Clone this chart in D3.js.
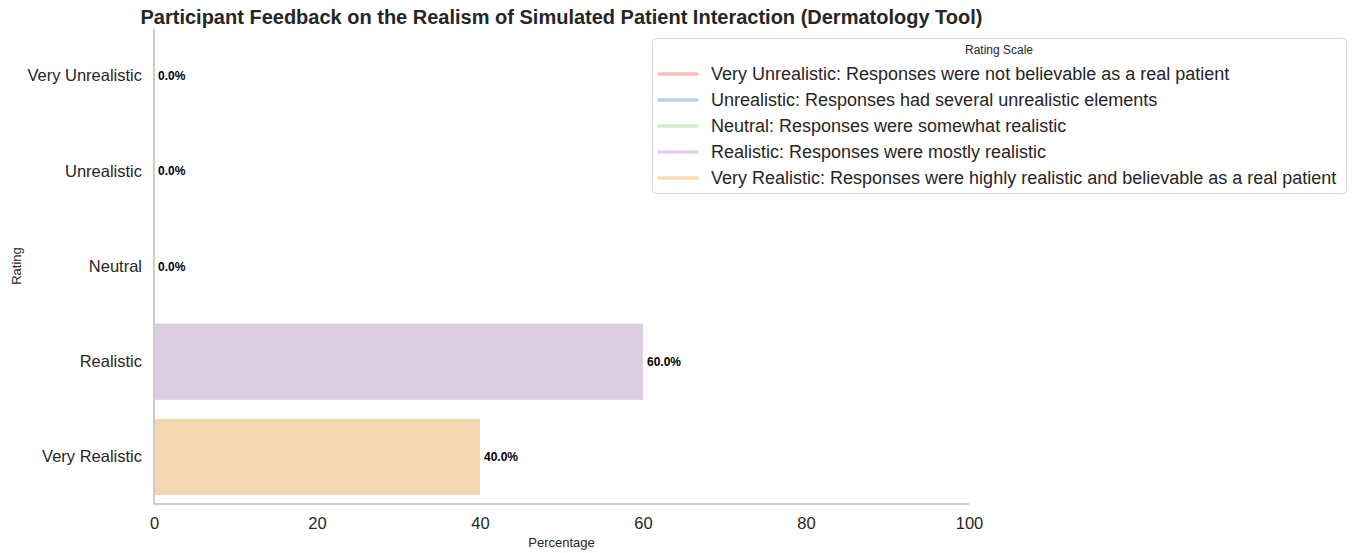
<!DOCTYPE html>
<html><head><meta charset="utf-8">
<script src="https://cdn.jsdelivr.net/npm/d3@7"></script>
<style>body{margin:0;background:#fff;} text{font-family:"Liberation Sans",Arial,sans-serif;}</style>
</head><body>
<svg id="c" width="1352" height="553"></svg>
<script>
const categories = ["Very Unrealistic","Unrealistic","Neutral","Realistic","Very Realistic"];
const values = [0,0,0,60,40];
const colors = ["#fbb4ae","#b3cde3","#ccebc5","#decbe4","#fed9a6"];
const legendLabels = [
 "Very Unrealistic: Responses were not believable as a real patient",
 "Unrealistic: Responses had several unrealistic elements",
 "Neutral: Responses were somewhat realistic",
 "Realistic: Responses were mostly realistic",
 "Very Realistic: Responses were highly realistic and believable as a real patient"
];
const xTicks = [0,20,40,60,80,100];

function desat(c, p){ const h = d3.hsl(c); h.s *= p; return h.formatHex(); }

const svg = d3.select("#c");
const L=154, R=969, T=28.6, B=504.5;
const x = d3.scaleLinear().domain([0,100]).range([L,R]);
const y = d3.scaleBand().domain(categories).range([T,B]).paddingInner(0.2).paddingOuter(0.1);

svg.append("text").attr("x",(L+R)/2).attr("y",24).attr("text-anchor","middle")
 .style("font-size","20px").style("font-weight","bold").attr("fill","#262626")
 .text("Participant Feedback on the Realism of Simulated Patient Interaction (Dermatology Tool)");

svg.selectAll("rect.bar").data(values).join("rect").attr("class","bar")
 .attr("x",x(0)).attr("y",(d,i)=>y(categories[i]))
 .attr("width",d=>x(d)-x(0)).attr("height",y.bandwidth())
 .attr("fill",(d,i)=>desat(colors[i],0.75));

svg.selectAll("text.val").data(values).join("text").attr("class","val")
 .attr("x",d=>x(d)+4).attr("y",(d,i)=>y(categories[i])+y.bandwidth()/2+4)
 .style("font-size","12px").style("font-weight","bold").attr("fill","#000")
 .text(d=>d.toFixed(1)+"%");

// y axis
const ya = svg.append("g").attr("transform",`translate(${L},0)`).call(d3.axisLeft(y).tickSize(0).tickPadding(12));
ya.select(".domain").attr("stroke","#cccccc").attr("stroke-width",2).attr("d",`M0,${T}V${B}`);
ya.selectAll("text").style("font-size","16.5px").attr("fill","#262626").style("font-family","Liberation Sans, Arial, sans-serif");

// x axis
const xa = svg.append("g").attr("transform",`translate(0,${B-1})`).call(d3.axisBottom(x).tickValues(xTicks).tickSize(0).tickPadding(14));
xa.select(".domain").attr("stroke","#cccccc").attr("stroke-width",2);
xa.selectAll("text").style("font-size","16.5px").attr("fill","#262626").style("font-family","Liberation Sans, Arial, sans-serif");

svg.append("text").attr("x",(L+R)/2).attr("y",547).attr("text-anchor","middle").style("font-size","13px").attr("fill","#262626").text("Percentage");
svg.append("text").attr("transform","translate(21,266) rotate(-90)").attr("text-anchor","middle").style("font-size","13px").attr("fill","#262626").text("Rating");

// legend
const lg = svg.append("g");
lg.append("rect").attr("x",652.5).attr("y",38.5).attr("width",694).attr("height",155).attr("rx",4)
 .attr("fill","#fff").attr("stroke","#d6d6d6");
lg.append("text").attr("x",999).attr("y",54).attr("text-anchor","middle").style("font-size","12px").attr("fill","#262626").text("Rating Scale");
legendLabels.forEach((t,i)=>{
  const yy = 74 + i*26;
  lg.append("line").attr("x1",659).attr("x2",697).attr("y1",yy).attr("y2",yy).attr("stroke",colors[i]).attr("stroke-width",3.5).attr("stroke-linecap","round").attr("stroke-opacity",0.9);
  lg.append("text").attr("x",711).attr("y",yy+6).style("font-size","18px").attr("fill","#262626").text(t);
});
</script>
</body></html>
